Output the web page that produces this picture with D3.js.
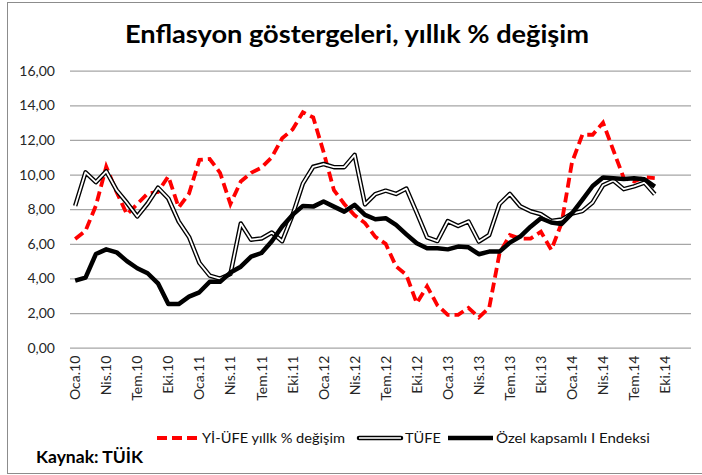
<!DOCTYPE html>
<html>
<head>
<meta charset="utf-8">
<script src="https://cdn.jsdelivr.net/npm/d3@7"></script>
<style>
  body { margin: 0; background: #fff; }
  svg { display: block; font-family: Lato, "Open Sans", sans-serif; }
</style>
</head>
<body>
<svg id="main" width="702" height="475"></svg>
<script>
const width = 702;
const height = 475;

// monthly categories Oca.10 .. Ara.14, one label every 3 months
const monthNames = ['Oca','Şub','Mar','Nis','May','Haz','Tem','Ağu','Eyl','Eki','Kas','Ara'];
const years = ['10','11','12','13','14'];
const yTicks = [0, 2, 4, 6, 8, 10, 12, 14, 16];

// Yİ-ÜFE yıllık % değişim (Oca.10 - Eyl.14)
const ufe = [6.28, 6.75, 8.2, 10.45, 9.0, 7.7, 8.3, 8.9, 9.0, 9.9, 8.1, 8.9,
  10.85, 10.9, 10.1, 8.3, 9.6, 10.1, 10.4, 11.0, 12.1, 12.6, 13.6, 13.3,
  11.3, 9.1, 8.3, 7.65, 7.2, 6.4, 6.0, 4.7, 4.2, 2.57, 3.55, 2.45,
  1.9, 1.9, 2.3, 1.75, 2.3, 5.45, 6.5, 6.3, 6.3, 6.7, 5.65, 7.2,
  10.7, 12.3, 12.3, 13.0, 11.4, 9.8, 9.6, 9.85, 9.8];
// TÜFE
const tufe = [8.19, 10.13, 9.56, 10.19, 9.10, 8.37, 7.58, 8.33, 9.24, 8.62, 7.29, 6.40,
  4.90, 4.16, 3.99, 4.26, 7.17, 6.24, 6.31, 6.65, 6.15, 7.66, 9.48, 10.45,
  10.61, 10.43, 10.43, 11.14, 8.28, 8.87, 9.07, 8.88, 9.19, 7.80, 6.37, 6.16,
  7.31, 7.03, 7.29, 6.13, 6.51, 8.30, 8.88, 8.17, 7.88, 7.71, 7.32, 7.40,
  7.75, 7.89, 8.39, 9.38, 9.66, 9.16, 9.32, 9.54, 8.86];
// Özel kapsamlı I Endeksi
const core = [3.87, 4.05, 5.41, 5.68, 5.51, 5.0, 4.59, 4.3, 3.72, 2.52, 2.52, 2.95,
  3.2, 3.81, 3.81, 4.34, 4.68, 5.26, 5.47, 6.15, 7.0, 7.67, 8.19, 8.15,
  8.44, 8.15, 7.86, 8.25, 7.67, 7.42, 7.48, 7.09, 6.55, 6.03, 5.74, 5.74,
  5.68, 5.84, 5.8, 5.4, 5.55, 5.55, 6.07, 6.42, 6.99, 7.48, 7.23, 7.15,
  7.76, 8.54, 9.34, 9.83, 9.79, 9.75, 9.79, 9.73, 9.3];

const categories = years.flatMap(yr => monthNames.map(m => `${m}.${yr}`));

const svg = d3.select('#main');

// outer frame
svg.append('rect')
  .attr('x', 7.5).attr('y', 2.5)
  .attr('width', 700).attr('height', 471)
  .attr('fill', 'none').attr('stroke', '#8c8c8c').attr('stroke-width', 1);

svg.append('text')
  .attr('x', 357).attr('y', 43)
  .attr('text-anchor', 'middle')
  .attr('font-size', 25).attr('font-weight', 'bold')
  .attr('textLength', 464).attr('lengthAdjust', 'spacingAndGlyphs')
  .text('Enflasyon göstergeleri, yıllık % değişim');

const x = d3.scaleBand().domain(categories).range([70, 691]);
const y = d3.scaleLinear().domain([0, 16]).range([347.7, 70.7]);
const cx = i => x(categories[i]) + x.bandwidth() / 2;

// gridlines + y labels
const yAxis = svg.append('g')
  .attr('transform', 'translate(70,0)')
  .call(d3.axisLeft(y).tickValues(yTicks)
    .tickSize(-621).tickPadding(15)
    .tickFormat(d => d3.format('.2f')(d).replace('.', ',')));
yAxis.select('.domain').remove();
yAxis.selectAll('.tick line').attr('stroke', '#a6a6a6').attr('stroke-width', 1.2);
yAxis.selectAll('.tick text')
  .attr('font-size', 14).attr('fill', '#262626')
  .attr('font-family', 'Lato, sans-serif');

// x labels, rotated
const xAxis = svg.append('g')
  .attr('transform', 'translate(0,347.7)')
  .call(d3.axisBottom(x)
    .tickValues(categories.filter((c, i) => i % 3 === 0 && i < 58))
    .tickSize(0));
xAxis.select('.domain').remove();
xAxis.selectAll('.tick text')
  .attr('font-size', 14).attr('fill', '#262626')
  .attr('font-family', 'Lato, sans-serif')
  .attr('text-anchor', 'end')
  .attr('transform', 'rotate(-90)')
  .attr('x', -8).attr('y', 0).attr('dy', '0.36em');

const line = d3.line().x((d, i) => cx(i)).y(d => y(d));

const plot = svg.append('g');
plot.append('path').datum(ufe)
  .attr('d', line).attr('fill', 'none')
  .attr('stroke', '#ff0000').attr('stroke-width', 3.8)
  .attr('stroke-dasharray', '10,5');
plot.append('path').datum(tufe)
  .attr('d', line).attr('fill', 'none')
  .attr('stroke', '#000').attr('stroke-width', 4.5).attr('stroke-linejoin', 'round');
plot.append('path').datum(tufe)
  .attr('d', line).attr('fill', 'none')
  .attr('stroke', '#fff').attr('stroke-width', 1.8).attr('stroke-linejoin', 'round');
plot.append('path').datum(core)
  .attr('d', line).attr('fill', 'none')
  .attr('stroke', '#000').attr('stroke-width', 4.5).attr('stroke-linejoin', 'round');

// legend
const legend = svg.append('g').attr('font-size', 14).attr('fill', '#111');
const ly = 438;
legend.append('line')
  .attr('x1', 157).attr('x2', 198).attr('y1', ly).attr('y2', ly)
  .attr('stroke', '#ff0000').attr('stroke-width', 3.8).attr('stroke-dasharray', '10,5');
legend.append('text').attr('x', 202).attr('y', ly + 5)
  .attr('textLength', 143).attr('lengthAdjust', 'spacingAndGlyphs')
  .text('Yİ-ÜFE yıllk % değişim');
legend.append('line')
  .attr('x1', 359).attr('x2', 401).attr('y1', ly).attr('y2', ly)
  .attr('stroke', '#000').attr('stroke-width', 4.5).attr('stroke-linecap', 'round');
legend.append('line')
  .attr('x1', 359).attr('x2', 401).attr('y1', ly).attr('y2', ly)
  .attr('stroke', '#c8c8c8').attr('stroke-width', 1.8);
legend.append('text').attr('x', 405).attr('y', ly + 5)
  .attr('textLength', 36).attr('lengthAdjust', 'spacingAndGlyphs')
  .text('TÜFE');
legend.append('line')
  .attr('x1', 448).attr('x2', 493).attr('y1', ly).attr('y2', ly)
  .attr('stroke', '#000').attr('stroke-width', 4.5);
legend.append('text').attr('x', 496).attr('y', ly + 5)
  .attr('textLength', 154).attr('lengthAdjust', 'spacingAndGlyphs')
  .text('Özel kapsamlı I Endeksi');

svg.append('text')
  .attr('x', 36).attr('y', 463)
  .attr('font-size', 17).attr('font-weight', 'bold')
  .attr('textLength', 107).attr('lengthAdjust', 'spacingAndGlyphs')
  .text('Kaynak: TÜİK');
</script>
</body>
</html>
